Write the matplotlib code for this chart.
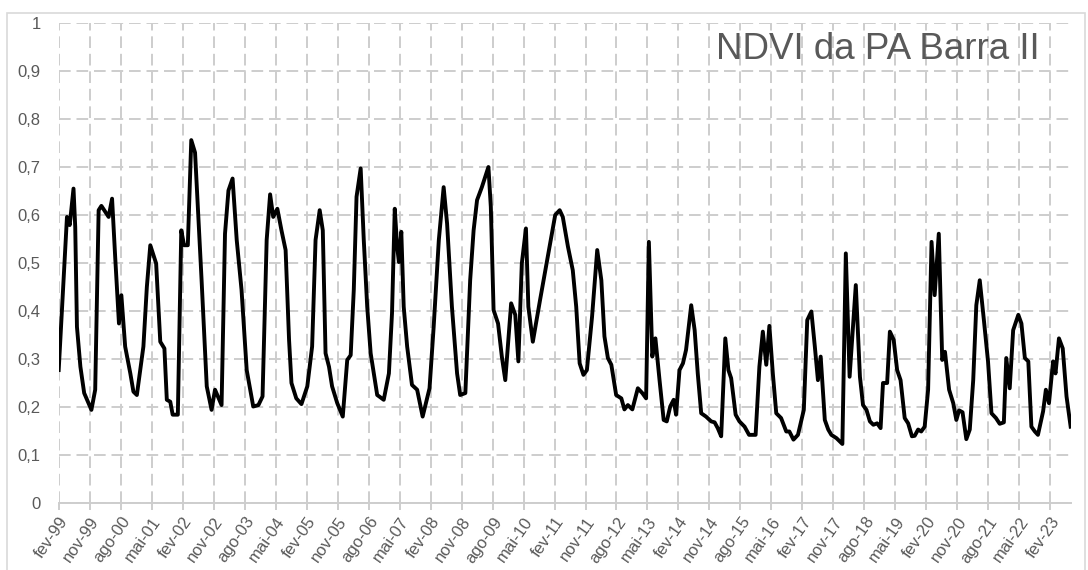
import matplotlib
matplotlib.use("Agg")
import matplotlib.pyplot as plt
from matplotlib.patches import Rectangle

# meses desde fev-99 e valores de NDVI
meses = [0.0, 2.4, 3.2, 4.3, 4.8, 5.3, 6.3, 7.4, 9.5, 10.6,
         11.6, 12.4, 14.5, 15.5, 16.4, 17.5, 18.2, 19.3, 20.8, 21.7,
         22.7, 24.6, 25.6, 26.6, 28.3, 29.5, 30.7, 31.4, 32.4, 33.1,
         34.6, 35.6, 36.4, 37.5, 38.5, 39.6, 41.5, 43.0, 44.4, 45.4,
         47.3, 48.3, 49.3, 50.5, 51.7, 53.1, 54.6, 56.5, 58.0, 59.2,
         60.4, 61.4, 62.3, 63.5, 64.7, 65.9, 66.9, 67.6, 69.0, 70.5,
         72.2, 73.6, 74.6, 75.8, 76.7, 77.5, 78.5, 79.4, 80.9, 82.5,
         83.8, 84.8, 85.7, 86.5, 87.7, 88.6, 89.6, 90.6, 92.5, 94.4,
         95.9, 96.8, 97.6, 98.3, 98.8, 99.5, 100.2, 101.2, 102.6, 104.1,
         105.7, 107.7, 108.9, 110.4, 111.8, 112.8, 114.2, 115.7, 116.6, 118.1,
         119.5, 120.5, 121.5, 122.9, 124.8, 125.5, 126.3, 127.6, 128.7, 129.7,
         131.4, 132.6, 133.5, 134.5, 135.7, 136.4, 137.7, 139.8, 144.2, 145.5,
         146.4, 147.9, 149.3, 150.3, 151.3, 152.4, 153.4, 154.9, 156.4, 157.6,
         158.5, 159.5, 160.5, 161.9, 163.4, 164.3, 165.3, 166.6, 168.2, 169.5,
         170.6, 171.4, 172.4, 173.3, 174.5, 175.7, 176.6, 177.6, 178.6, 179.3,
         180.3, 181.3, 182.2, 183.7, 184.7, 185.6, 186.6, 188.0, 189.5, 190.5,
         191.4, 192.4, 193.6, 194.5, 195.3, 196.6, 197.7, 199.2, 200.5, 202.4,
         203.5, 204.5, 205.5, 206.4, 207.4, 208.4, 209.8, 211.3, 212.2, 213.4,
         214.7, 216.4, 217.4, 218.6, 219.6, 220.5, 221.3, 222.5, 223.5, 224.4,
         225.9, 227.6, 228.6, 229.7, 231.5, 232.7, 233.6, 234.6, 235.6, 236.6,
         237.7, 238.7, 239.4, 240.6, 241.4, 242.5, 243.5, 244.5, 245.7, 246.7,
         247.8, 248.6, 249.6, 250.5, 251.5, 252.5, 253.5, 254.4, 255.6, 256.6,
         257.4, 258.6, 259.8, 260.7, 261.5, 262.5, 263.6, 264.6, 265.6, 266.5,
         267.5, 268.7, 269.9, 270.9, 272.2, 273.3, 274.5, 275.2, 276.2, 277.2,
         278.7, 279.6, 280.6, 281.6, 282.5, 283.5, 284.4, 285.9, 286.7, 287.6,
         288.8, 289.5, 290.5, 291.6, 292.7, 293.9]
ndvi = [0.277, 0.596, 0.579, 0.655, 0.575, 0.367, 0.284, 0.229, 0.194, 0.236,
        0.610, 0.619, 0.596, 0.634, 0.513, 0.374, 0.433, 0.326, 0.270, 0.232,
        0.225, 0.326, 0.450, 0.537, 0.499, 0.336, 0.322, 0.215, 0.211, 0.184,
        0.184, 0.568, 0.537, 0.537, 0.756, 0.730, 0.464, 0.243, 0.194, 0.236,
        0.204, 0.561, 0.651, 0.676, 0.548, 0.444, 0.277, 0.201, 0.204, 0.222,
        0.548, 0.643, 0.596, 0.613, 0.568, 0.527, 0.340, 0.250, 0.218, 0.206,
        0.243, 0.326, 0.548, 0.610, 0.568, 0.312, 0.284, 0.243, 0.208, 0.180,
        0.298, 0.308, 0.444, 0.638, 0.697, 0.548, 0.409, 0.312, 0.225, 0.215,
        0.270, 0.395, 0.613, 0.534, 0.502, 0.565, 0.409, 0.326, 0.246, 0.236,
        0.180, 0.239, 0.367, 0.548, 0.658, 0.582, 0.409, 0.270, 0.225, 0.229,
        0.464, 0.568, 0.631, 0.658, 0.700, 0.617, 0.402, 0.374, 0.305, 0.256,
        0.416, 0.392, 0.295, 0.499, 0.572, 0.409, 0.336, 0.423, 0.600, 0.610,
        0.596, 0.534, 0.485, 0.409, 0.291, 0.267, 0.277, 0.388, 0.527, 0.464,
        0.347, 0.302, 0.288, 0.225, 0.218, 0.195, 0.204, 0.195, 0.239, 0.229,
        0.218, 0.544, 0.305, 0.343, 0.256, 0.173, 0.170, 0.201, 0.215, 0.184,
        0.277, 0.291, 0.319, 0.412, 0.360, 0.270, 0.187, 0.180, 0.170, 0.168,
        0.156, 0.139, 0.343, 0.277, 0.260, 0.184, 0.170, 0.159, 0.142, 0.142,
        0.284, 0.357, 0.288, 0.369, 0.270, 0.187, 0.177, 0.149, 0.149, 0.132,
        0.142, 0.194, 0.381, 0.399, 0.326, 0.256, 0.305, 0.173, 0.153, 0.142,
        0.135, 0.123, 0.520, 0.263, 0.454, 0.263, 0.204, 0.194, 0.170, 0.163,
        0.166, 0.156, 0.250, 0.250, 0.357, 0.340, 0.277, 0.256, 0.177, 0.166,
        0.139, 0.140, 0.153, 0.149, 0.159, 0.236, 0.544, 0.433, 0.561, 0.298,
        0.315, 0.236, 0.208, 0.173, 0.193, 0.189, 0.133, 0.153, 0.256, 0.412,
        0.464, 0.381, 0.295, 0.187, 0.177, 0.165, 0.168, 0.302, 0.239, 0.360,
        0.392, 0.374, 0.302, 0.295, 0.159, 0.149, 0.142, 0.191, 0.236, 0.208,
        0.295, 0.270, 0.343, 0.322, 0.222, 0.159]

rotulos = ["fev-99", "nov-99", "ago-00", "mai-01", "fev-02", "nov-02", "ago-03",
           "mai-04", "fev-05", "nov-05", "ago-06", "mai-07", "fev-08", "nov-08",
           "ago-09", "mai-10", "fev-11", "nov-11", "ago-12", "mai-13", "fev-14",
           "nov-14", "ago-15", "mai-16", "fev-17", "nov-17", "ago-18", "mai-19",
           "fev-20", "nov-20", "ago-21", "mai-22", "fev-23"]
y_ticks = [0, 0.1, 0.2, 0.3, 0.4, 0.5, 0.6, 0.7, 0.8, 0.9, 1]

plt.rcParams['font.family'] = ['Liberation Sans', 'DejaVu Sans']
cinza = '#595959'
grade = '#cdcdcd'

fig = plt.figure(figsize=(10.88, 5.70), dpi=100)
ax = fig.add_axes([58.7 / 1088, 1 - 503 / 570, (1071 - 58.7) / 1088, 480 / 570])

# moldura da area do grafico
fig.patches.append(Rectangle((7 / 1088, -0.05), 1078 / 1088, 1.05 - 13 / 570,
                             transform=fig.transFigure, fill=False,
                             edgecolor='#d9d9d9', linewidth=1.2))

ax.plot(meses, ndvi, color='black', linewidth=2.8, solid_joinstyle='round', zorder=3)

ax.set_xlim(0, 294)
ax.set_ylim(0, 1)
ax.set_xticks(range(0, 9 * len(rotulos), 9))
ax.set_xticklabels(rotulos, rotation=55, ha='right', va='top', rotation_mode='anchor',
                   fontsize=12, color=cinza)
ax.set_yticks(y_ticks)
ax.set_yticklabels([f"{v:g}".replace('.', ',') for v in y_ticks], fontsize=12, color=cinza)

ax.grid(True, color=grade, linestyle=(0, (6, 3)), linewidth=1.4)
ax.set_axisbelow(True)
for s in ['top', 'right', 'left']:
    ax.spines[s].set_visible(False)
ax.spines['bottom'].set_color(grade)
ax.spines['bottom'].set_linewidth(1.4)
ax.tick_params(axis='x', length=5, color=grade, width=1.4, pad=3)
ax.tick_params(axis='y', length=0, pad=13)

ax.text(0.969, 0.945, "NDVI da PA Barra II", transform=ax.transAxes, ha='right', va='center',
        fontsize=26.5, color=cinza)

fig.savefig("out.png", dpi=100)
